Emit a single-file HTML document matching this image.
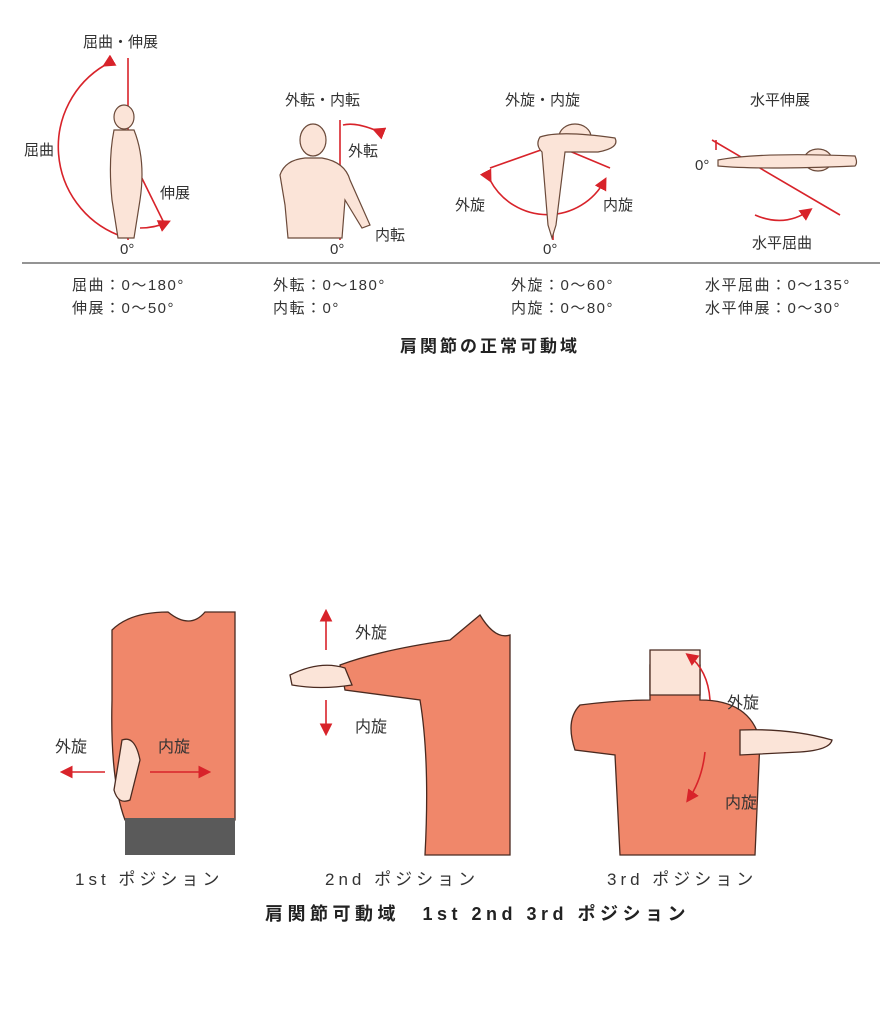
<!DOCTYPE html>
<html><head><meta charset="utf-8"><style>
body{margin:0;background:#fff;width:895px;height:1024px;overflow:hidden}
svg text{font-family:"Liberation Sans","Noto Sans CJK JP",sans-serif;fill:#333}
</style></head><body>
<svg width="895" height="1024" viewBox="0 0 895 1024" xmlns="http://www.w3.org/2000/svg">
<defs><marker id="a" markerWidth="8" markerHeight="8" refX="6" refY="4" orient="auto"><path d="M0,0 L8,4 L0,8z" fill="#d8232a"/></marker></defs>
<g font-size="15">
<text x="83" y="47">屈曲・伸展</text>
<text x="24" y="155">屈曲</text>
<text x="160" y="198">伸展</text>
<text x="120" y="254">0°</text>
<text x="285" y="105">外転・内転</text>
<text x="348" y="156">外転</text>
<text x="375" y="240">内転</text>
<text x="330" y="254">0°</text>
<text x="505" y="105">外旋・内旋</text>
<text x="455" y="210">外旋</text>
<text x="603" y="210">内旋</text>
<text x="543" y="254">0°</text>
<text x="750" y="105">水平伸展</text>
<text x="695" y="170">0°</text>
<text x="752" y="248">水平屈曲</text>
</g>
<g stroke="#d8232a" stroke-width="1.6" fill="none">
<line x1="128" y1="58" x2="128" y2="240"/>
<path d="M105,65 A95,95 0 0 0 118,235" marker-start="url(#a)"/>
<line x1="128" y1="150" x2="165" y2="225"/>
<path d="M140,228 Q155,228 168,222" marker-end="url(#a)"/>
<line x1="340" y1="120" x2="340" y2="240"/>
<path d="M375,130 Q355,122 343,125" marker-start="url(#a)"/>
<line x1="490" y1="168" x2="555" y2="145"/>
<line x1="555" y1="145" x2="610" y2="168"/>
<line x1="553" y1="145" x2="553" y2="240"/>
<path d="M490,180 A65,65 0 0 0 605,180" marker-start="url(#a)" marker-end="url(#a)"/>
<line x1="712" y1="140" x2="840" y2="215"/>
<path d="M755,215 Q785,228 810,210" marker-end="url(#a)"/>
<line x1="716" y1="140" x2="716" y2="150"/>
</g>
<g fill="#fbe4d8" stroke="#6b4a3a" stroke-width="1.2">
<ellipse cx="124" cy="117" rx="10" ry="12"/>
<path d="M114,130 Q108,160 112,200 L118,238 L134,238 L140,200 Q146,160 134,130z"/>
<ellipse cx="313" cy="140" rx="13" ry="16"/>
<path d="M280,175 Q285,160 305,158 L322,158 Q345,162 350,180 L370,225 L362,228 L345,200 L342,238 L288,238 L285,205z"/>
<ellipse cx="575" cy="137" rx="16" ry="13"/>
<path d="M540,137 Q560,130 615,138 Q620,148 598,152 L565,152 L556,225 L552,238 L548,225 L542,152 Q535,145 540,137z"/>
<ellipse cx="818" cy="160" rx="14" ry="11"/>
<path d="M718,160 Q760,152 855,156 Q858,163 855,166 Q760,170 718,166z"/>
</g>
<line x1="22" y1="263" x2="880" y2="263" stroke="#555" stroke-width="1.2"/>
<g font-size="15" letter-spacing="1.5">
<text x="72" y="290">屈曲：0～180°</text>
<text x="72" y="313">伸展：0～50°</text>
<text x="273" y="290">外転：0～180°</text>
<text x="273" y="313">内転：0°</text>
<text x="511" y="290">外旋：0～60°</text>
<text x="511" y="313">内旋：0～80°</text>
<text x="705" y="290">水平屈曲：0～135°</text>
<text x="705" y="313">水平伸展：0～30°</text>
</g>
<text x="400" y="352" font-size="17" font-weight="bold" letter-spacing="3" style="fill:#222">肩関節の正常可動域</text>

<g fill="#f0876a" stroke="#4a2a20" stroke-width="1.3">
<path d="M112,630 Q130,612 168,612 Q190,630 205,612 L235,612 L235,820 L125,820 Q110,780 112,700z"/>
<path d="M122,740 Q135,735 140,760 L130,800 Q118,805 114,790z" fill="#fbe4d8"/>
</g>
<rect x="125" y="818" width="110" height="37" fill="#5a5a5a"/>
<g fill="#f0876a" stroke="#4a2a20" stroke-width="1.3">
<path d="M480,615 Q495,640 510,635 L510,855 L425,855 Q430,760 420,700 L345,690 L340,665 Q380,650 450,640z"/>
<path d="M290,675 Q320,660 345,668 L352,685 Q320,690 292,685z" fill="#fbe4d8"/>
<path d="M650,665 L700,665 L700,700 Q750,700 760,740 L755,855 L620,855 L615,755 L575,750 Q565,720 580,705 Q620,700 650,700z"/>
<path d="M740,730 Q790,728 832,740 Q830,750 800,752 L740,755z" fill="#fbe4d8"/>
<path d="M650,650 L700,650 L700,695 L650,695z" fill="#fbe4d8"/>
</g>
<g stroke="#d8232a" stroke-width="1.6" fill="none">
<line x1="105" y1="772" x2="63" y2="772" marker-end="url(#a)"/>
<line x1="150" y1="772" x2="208" y2="772" marker-end="url(#a)"/>
<line x1="326" y1="650" x2="326" y2="612" marker-end="url(#a)"/>
<line x1="326" y1="700" x2="326" y2="733" marker-end="url(#a)"/>
<path d="M710,700 Q708,670 688,655" marker-end="url(#a)"/>
<path d="M705,752 Q702,780 688,800" marker-end="url(#a)"/>
</g>
<g font-size="16">
<text x="55" y="752">外旋</text>
<text x="158" y="752">内旋</text>
<text x="355" y="638">外旋</text>
<text x="355" y="732">内旋</text>
<text x="727" y="708">外旋</text>
<text x="725" y="808">内旋</text>
</g>
<g font-size="17" letter-spacing="4">
<text x="75" y="885">1st ポジション</text>
<text x="325" y="885">2nd ポジション</text>
<text x="607" y="885">3rd ポジション</text>
</g>
<text x="265" y="920" font-size="18" font-weight="bold" letter-spacing="4.5" style="fill:#222">肩関節可動域　1st 2nd 3rd ポジション</text>
</svg>
</body></html>
